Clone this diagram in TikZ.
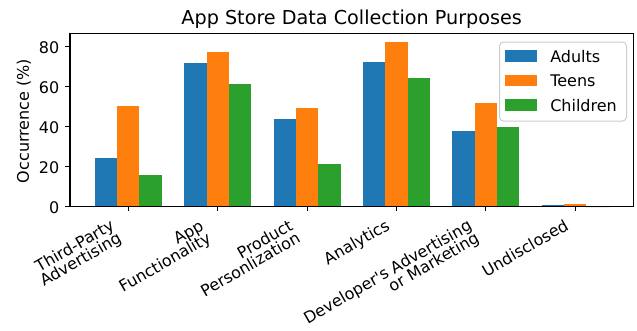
\documentclass[tikz,border=0pt]{standalone}
\usepackage{fontspec}
\setmainfont{DejaVu Sans}
\newfontfamily\nolig{DejaVu Sans}
\usetikzlibrary{calc}
\definecolor{tabblue}{HTML}{1F77B4}
\definecolor{taborange}{HTML}{FF7F0E}
\definecolor{tabgreen}{HTML}{2CA02C}
\definecolor{txt}{HTML}{000000}
\newcommand\lpst{\vphantom{lp}}
\newcommand\tightlines{\lineskiplimit=-20pt\relax}
\begin{document}
\begin{tikzpicture}[x=0.75pt,y=-0.75pt,
  axisline/.style={line width=0.8pt,black},
  tickmark/.style={line width=0.8pt,black},
  ticklab/.style={font=\fontsize{12}{10.95}\selectfont\tightlines,inner sep=0,text=txt},
  xlab/.style={ticklab,rotate=30,align=right,anchor=north east},
  ylab/.style={ticklab,anchor=east,text height=8.75pt,text depth=0pt},
  legtext/.style={font=\fontsize{12}{14.25}\selectfont,inner sep=0,anchor=base west},
  barb/.style={fill=tabblue},
  baro/.style={fill=taborange},
  barg/.style={fill=tabgreen}]
\useasboundingbox (0,0) rectangle (637,330);
% bars
\def\w{22.35}
\foreach \i/\a/\t/\c in {0/24.2/50.5/16.0, 1/71.8/77.2/61.2, 2/43.7/49.4/21.2, 3/72.4/82.4/64.2, 4/37.7/51.8/40.0, 5/0.8/1.4/0}{
  \pgfmathsetmacro\cx{128.3+\i*89.4}
  \fill[barb] (\cx-1.5*\w,206.7) rectangle (\cx-0.5*\w,206.7-2*\a);
  \fill[baro] (\cx-0.5*\w,206.7) rectangle (\cx+0.5*\w,206.7-2*\t);
  \fill[barg] (\cx+0.5*\w,206.7) rectangle (\cx+1.5*\w,206.7-2*\c);
}
% axes frame
\draw[axisline] (70,33.5) rectangle (633.3,206.7);
% y ticks
\foreach \v in {0,20,40,60,80}{
  \coordinate (y\v) at (70,206.7-2*\v);
  \draw[tickmark] (y\v) -- ++(-4.67,0);
  \node[ylab] (yl\v) at ($(y\v)+(-10.5,0.8)$) {\v};
}
% x ticks
\foreach \i in {0,...,5}{
  \pgfmathsetmacro\cx{128.3+\i*89.4}
  \coordinate (t\i) at (\cx,206.7);
  \draw[tickmark] (t\i) -- ++(0,4.67);
}
\node[xlab] (l0) at ($(t0)+(-19.05,11.33)$) {\lpst Third-Party\\\lpst Advertising};
\node[xlab] (l1) at ($(t1)+(-19.05,11.33)$) {\lpst App\\\lpst Functionality};
\node[xlab] (l2) at ($(t2)+(-19.05,11.33)$) {\lpst Product\\\lpst Personlization};
\node[xlab] (l3) at ($(t3)+(-11.75,11.33)$) {\lpst Analytics};
\node[xlab] (l4) at ($(t4)+(-19.05,11.33)$) {\lpst Developer{\nolig '}s Advertising\\\lpst or Marketing};
\node[xlab] (l5) at ($(t5)+(-11.75,11.33)$) {\lpst Undisclosed};
% y label
\node[font=\fontsize{12}{14.25}\selectfont,inner sep=0,rotate=90,anchor=base] (ylabel) at (28.8,121) {Occurrence (\%)};
% title
\node[font=\fontsize{14.4}{17}\selectfont,inner sep=0,anchor=base] (title) at (351.7,24.8) {App Store Data Collection Purposes};
% legend
\draw[draw={rgb,255:red,204;green,204;blue,204},line width=0.75pt,fill=white,fill opacity=0.8,rounded corners=3pt] (499.5,42) rectangle (626.5,121);
\fill[barb] (505,50.4) rectangle (537,61.6);
\fill[baro] (505,74.9) rectangle (537,86.1);
\fill[barg] (505,99.4) rectangle (537,110.6);
\node[legtext] (la) at (550,62) {Adults};
\node[legtext] (lt) at (550,86.5) {Teens};
\node[legtext] (lc) at (550,111) {Children};
\end{tikzpicture}
\end{document}
